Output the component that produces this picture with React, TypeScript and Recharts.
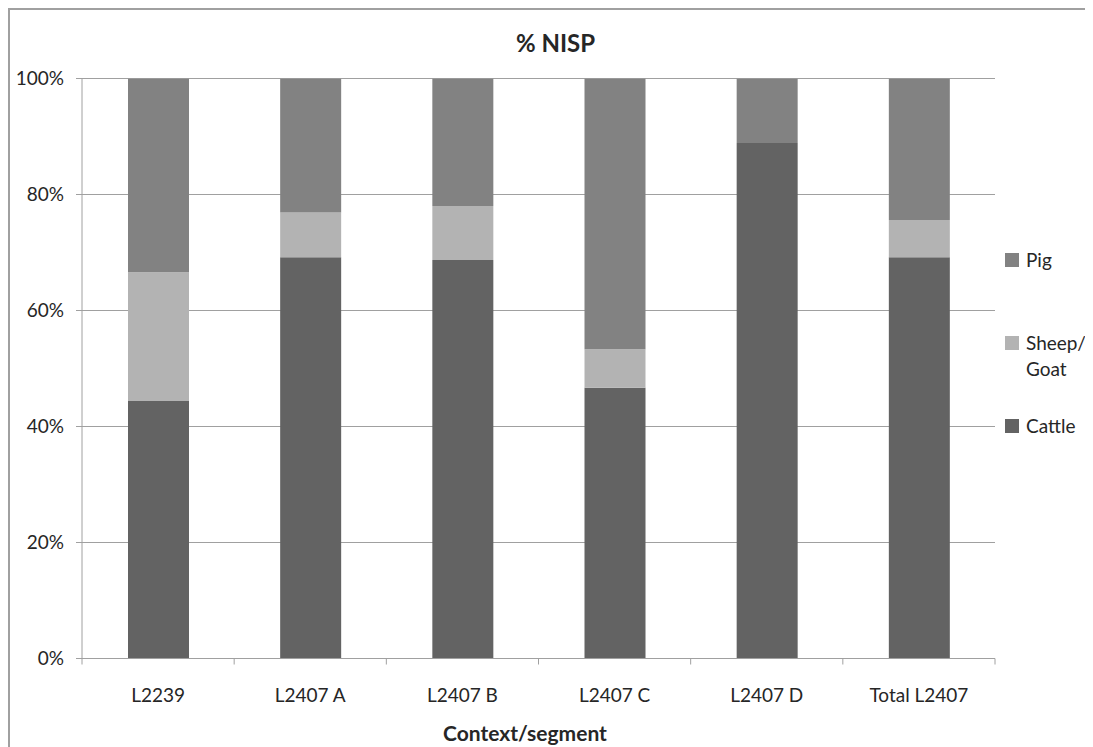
import React from 'react';
import { BarChart, Bar, XAxis, YAxis, CartesianGrid, Legend } from 'recharts';

const categories = ['L2239', 'L2407 A', 'L2407 B', 'L2407 C', 'L2407 D', 'Total L2407'];
const cattle = [44.4, 69.2, 68.7, 46.7, 88.9, 69.2];
const sheepGoat = [22.2, 7.7, 9.3, 6.6, 0, 6.4];
const pig = [33.4, 23.1, 22.0, 46.7, 11.1, 24.4];
const seriesNames = ['Cattle', 'Sheep/Goat', 'Pig'];
const yTicks = [0, 20, 40, 60, 80, 100];
const chartTitle = '% NISP';
const xTitle = 'Context/segment';

const data = categories.map((c, i) => ({
  name: c,
  Cattle: cattle[i],
  'Sheep/Goat': sheepGoat[i],
  Pig: pig[i],
}));

const W = 1083;
const H = 737;
const M = { top: 68.5, right: 98, bottom: 28.5, left: 12 };
const Y_AXIS_W = 60;
const PLOT_W = W - M.left - M.right - Y_AXIS_W;
const BAND = PLOT_W / categories.length;

const FONT = 'Lato, "Noto Sans", sans-serif';
const TEXT = '#262626';
const AXIS = '#a0a0a0';
const C_CATTLE = '#636363';
const C_SHEEP = '#b3b3b3';
const C_PIG = '#828282';

const XTick = (props: any) => {
  const { x, y, payload, index } = props;
  const half = BAND / 2;
  return (
    <g>
      <line x1={x - half} x2={x - half} y1={y} y2={y + 6} stroke={AXIS} strokeWidth={1} />
      {index === categories.length - 1 && (
        <line x1={x + half} x2={x + half} y1={y} y2={y + 6} stroke={AXIS} strokeWidth={1} />
      )}
      <text x={x} y={y + 43.2} textAnchor="middle" fill={TEXT} fontSize={19} fontFamily={FONT}>
        {payload.value}
      </text>
    </g>
  );
};

const LegendContent = (props: any) => {
  const payload = props.payload || [];
  const ordered = [...seriesNames]
    .reverse()
    .map((n) => payload.find((p: any) => p.value === n || p.dataKey === n))
    .filter(Boolean);
  return (
    <div style={{ fontFamily: FONT, fontSize: 19, color: TEXT }}>
      {ordered.map((it: any) => {
        const parts = String(it.value).split('/');
        return (
          <div key={it.value} style={{ display: 'flex', alignItems: 'flex-start', height: 83.3 }}>
            <div
              style={{ width: 14, height: 14, background: it.color, marginTop: 6, marginRight: 7, flexShrink: 0 }}
            />
            <div style={{ lineHeight: '26px' }}>
              {parts.map((p, i) => (
                <div key={i}>{i < parts.length - 1 ? p + '/' : p}</div>
              ))}
            </div>
          </div>
        );
      })}
    </div>
  );
};

export default function App() {
  return (
    <div
      style={{
        width: 1085,
        height: 739,
        borderLeft: `2px solid ${AXIS}`,
        borderTop: `2px solid ${AXIS}`,
        boxSizing: 'border-box',
        position: 'relative',
        fontFamily: FONT,
        background: '#fff',
        overflow: 'hidden',
      }}
    >
      <style>{'html,body{overflow:hidden;background:#fff}'}</style>
      <BarChart width={W} height={H} data={data} margin={M} barSize={61}>
        <CartesianGrid vertical={false} stroke={AXIS} strokeWidth={1} />
        <XAxis
          dataKey="name"
          height={60}
          stroke={AXIS}
          tickLine={false}
          tickSize={0}
          tickMargin={0}
          tick={<XTick />}
          interval={0}
        />
        <YAxis
          width={Y_AXIS_W}
          domain={[0, 100]}
          ticks={yTicks}
          tickFormatter={(v: number) => `${v}%`}
          stroke={AXIS}
          tickSize={6}
          tickMargin={12}
          tick={{ fill: TEXT, fontSize: 19, fontFamily: FONT }}
          allowDataOverflow
        />
        <Legend
          layout="horizontal"
          verticalAlign="middle"
          align="center"
          content={<LegendContent />}
          wrapperStyle={{ left: 995, top: 236.7, width: 86 }}
        />
        <Bar dataKey="Cattle" stackId="a" fill={C_CATTLE} isAnimationActive={false} />
        <Bar dataKey="Sheep/Goat" stackId="a" fill={C_SHEEP} isAnimationActive={false} />
        <Bar dataKey="Pig" stackId="a" fill={C_PIG} isAnimationActive={false} />
        <text x={545.5} y={41.7} textAnchor="middle" fill={TEXT} fontSize={24} fontWeight="bold" fontFamily={FONT}>
          {chartTitle}
        </text>
        <text x={515} y={730.7} textAnchor="middle" fill={TEXT} fontSize={21} fontWeight="bold" fontFamily={FONT}>
          {xTitle}
        </text>
      </BarChart>
    </div>
  );
}
